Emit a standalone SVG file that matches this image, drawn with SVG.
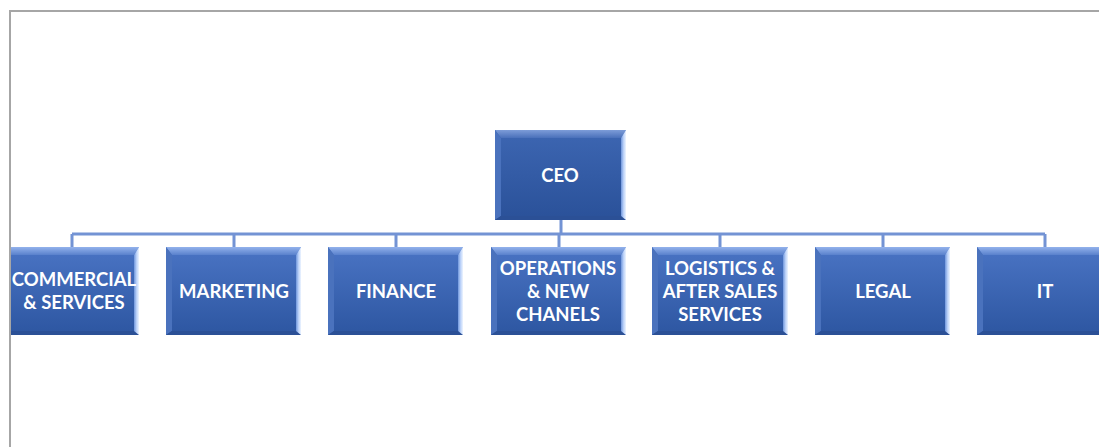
<svg xmlns="http://www.w3.org/2000/svg" width="1099" height="447" viewBox="0 0 1099 447">
  <defs>
    <linearGradient id="faceCeo" x1="0" y1="0" x2="0" y2="1">
      <stop offset="0" stop-color="#3d66b2"/>
      <stop offset="1" stop-color="#2a5199"/>
    </linearGradient>
    <linearGradient id="face" x1="0" y1="0" x2="0" y2="1">
      <stop offset="0" stop-color="#4a74c4"/>
      <stop offset="1" stop-color="#2d56a1"/>
    </linearGradient>
    <linearGradient id="topCeo" x1="0" y1="0" x2="0" y2="1">
      <stop offset="0" stop-color="#7d9cd8"/>
      <stop offset="1" stop-color="#4a70ba"/>
    </linearGradient>
    <linearGradient id="top" x1="0" y1="0" x2="0" y2="1">
      <stop offset="0" stop-color="#93b2ec"/>
      <stop offset="1" stop-color="#5981cc"/>
    </linearGradient>
    <linearGradient id="right" x1="0" y1="0" x2="1" y2="0">
      <stop offset="0" stop-color="#6f96dc"/>
      <stop offset="0.5" stop-color="#b9d0f8"/>
      <stop offset="1" stop-color="#eef5ff"/>
    </linearGradient>
    <clipPath id="page">
      <rect x="11" y="12" width="1088" height="435"/>
    </clipPath>
  </defs>
  <style>
    .lbl { font-family: Lato, "Open Sans", "Liberation Sans", sans-serif; font-weight: bold; font-size: 18.5px; fill: #ffffff; text-anchor: middle; dominant-baseline: central; }
    .link { stroke: #7393d4; stroke-width: 3; fill: none; }
    .lb { fill: #4a72bd; }
    .bb { fill: #2b5096; }
    .rb { fill: url(#right); }
    .frame { stroke: #a6a6a6; stroke-width: 2; fill: none; }
  </style>

  <rect width="1099" height="447" fill="#ffffff"/>
  <path class="frame" d="M10 447 V11 H1099"/>

  <g clip-path="url(#page)">
    <!-- reporting lines -->
    <g id="connectors">
      <path class="link" d="M561 220 V234"/>
      <path class="link" d="M72 234 H1045"/>
      <path class="link" d="M72 234 V247 M234 234 V247 M396 234 V247 M559 234 V247 M720 234 V247 M883 234 V247 M1045 234 V247"/>
    </g>

    <!-- CEO -->
    <g id="ceo">
      <rect x="495" y="130" width="131" height="90" fill="url(#faceCeo)"/>
      <polygon points="495,130 626,130 621,138 501,138" fill="url(#topCeo)"/>
      <polygon class="lb" points="495,130 501,138 501,216 495,220"/>
      <polygon class="bb" points="495,220 626,220 621,216 501,216"/>
      <polygon class="rb" points="626,130 626,220 621,216 621,138"/>
      <text class="lbl" x="560" y="175">CEO</text>
    </g>

    <!-- COMMERCIAL & SERVICES -->
    <g id="commercial">
      <rect x="4" y="247" width="135" height="88" fill="url(#face)"/>
      <polygon points="4,247 139,247 134,255 10,255" fill="url(#top)"/>
      <polygon class="lb" points="4,247 10,255 10,331 4,335"/>
      <polygon class="bb" points="4,335 139,335 134,331 10,331"/>
      <polygon class="rb" points="139,247 139,335 134,331 134,255"/>
      <text class="lbl" x="74" y="279">COMMERCIAL</text>
      <text class="lbl" x="74" y="302">&amp; SERVICES</text>
    </g>

    <!-- MARKETING -->
    <g id="marketing">
      <rect x="166" y="247" width="135" height="88" fill="url(#face)"/>
      <polygon points="166,247 301,247 296,255 172,255" fill="url(#top)"/>
      <polygon class="lb" points="166,247 172,255 172,331 166,335"/>
      <polygon class="bb" points="166,335 301,335 296,331 172,331"/>
      <polygon class="rb" points="301,247 301,335 296,331 296,255"/>
      <text class="lbl" x="234" y="291">MARKETING</text>
    </g>

    <!-- FINANCE -->
    <g id="finance">
      <rect x="328" y="247" width="135" height="88" fill="url(#face)"/>
      <polygon points="328,247 463,247 458,255 334,255" fill="url(#top)"/>
      <polygon class="lb" points="328,247 334,255 334,331 328,335"/>
      <polygon class="bb" points="328,335 463,335 458,331 334,331"/>
      <polygon class="rb" points="463,247 463,335 458,331 458,255"/>
      <text class="lbl" x="396" y="291">FINANCE</text>
    </g>

    <!-- OPERATIONS & NEW CHANELS -->
    <g id="operations">
      <rect x="491" y="247" width="135" height="88" fill="url(#face)"/>
      <polygon points="491,247 626,247 621,255 497,255" fill="url(#top)"/>
      <polygon class="lb" points="491,247 497,255 497,331 491,335"/>
      <polygon class="bb" points="491,335 626,335 621,331 497,331"/>
      <polygon class="rb" points="626,247 626,335 621,331 621,255"/>
      <text class="lbl" x="558" y="268">OPERATIONS</text>
      <text class="lbl" x="558" y="291">&amp; NEW</text>
      <text class="lbl" x="558" y="314">CHANELS</text>
    </g>

    <!-- LOGISTICS & AFTER SALES SERVICES -->
    <g id="logistics">
      <rect x="652" y="247" width="136" height="88" fill="url(#face)"/>
      <polygon points="652,247 788,247 783,255 658,255" fill="url(#top)"/>
      <polygon class="lb" points="652,247 658,255 658,331 652,335"/>
      <polygon class="bb" points="652,335 788,335 783,331 658,331"/>
      <polygon class="rb" points="788,247 788,335 783,331 783,255"/>
      <text class="lbl" x="720" y="268">LOGISTICS &amp;</text>
      <text class="lbl" x="720" y="291">AFTER SALES</text>
      <text class="lbl" x="720" y="314">SERVICES</text>
    </g>

    <!-- LEGAL -->
    <g id="legal">
      <rect x="815" y="247" width="135" height="88" fill="url(#face)"/>
      <polygon points="815,247 950,247 945,255 821,255" fill="url(#top)"/>
      <polygon class="lb" points="815,247 821,255 821,331 815,335"/>
      <polygon class="bb" points="815,335 950,335 945,331 821,331"/>
      <polygon class="rb" points="950,247 950,335 945,331 945,255"/>
      <text class="lbl" x="883" y="291">LEGAL</text>
    </g>

    <!-- IT -->
    <g id="it">
      <rect x="977" y="247" width="135" height="88" fill="url(#face)"/>
      <polygon points="977,247 1112,247 1107,255 983,255" fill="url(#top)"/>
      <polygon class="lb" points="977,247 983,255 983,331 977,335"/>
      <polygon class="bb" points="977,335 1112,335 1107,331 983,331"/>
      <polygon class="rb" points="1112,247 1112,335 1107,331 1107,255"/>
      <text class="lbl" x="1045" y="291">IT</text>
    </g>
  </g>
</svg>
